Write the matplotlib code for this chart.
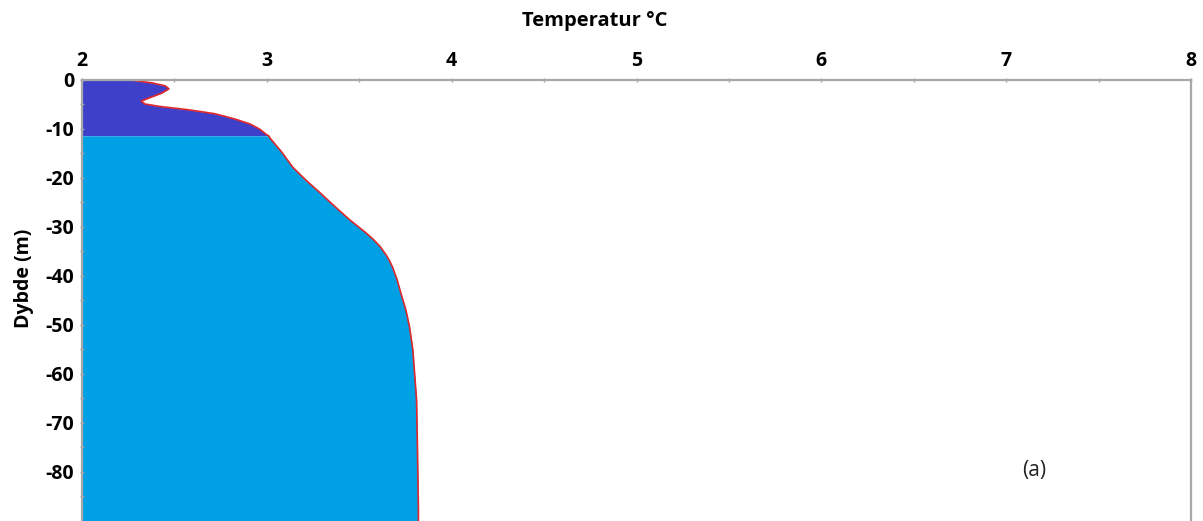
import numpy as np
import matplotlib.pyplot as plt

# Temperature profile (depth in m, temperature in degC)
depth = [0, 0.6, 1.2, 1.8, 2.7, 3.7, 4.3, 4.9, 5.4, 6.1, 6.9, 8.0, 9.0, 10.0,
         11.2, 11.4, 12.0, 14.7, 17.8, 20.4, 23.1, 25.9, 28.6, 31.0, 32.5, 34.0,
         35.7, 37.0, 38.2, 40.8, 43.5, 46.9, 50.4, 55.1, 60.2, 65.3, 75.5, 87.8, 90]
temp = [2.26, 2.38, 2.45, 2.47, 2.43, 2.36, 2.32, 2.34, 2.42, 2.58, 2.72, 2.83,
        2.91, 2.96, 3.00, 3.01, 3.02, 3.08, 3.14, 3.21, 3.29, 3.37, 3.45, 3.53,
        3.575, 3.613, 3.645, 3.665, 3.68, 3.705, 3.725, 3.752, 3.772, 3.79, 3.80,
        3.81, 3.815, 3.82, 3.82]
mixed_layer = 11.4  # base of the upper layer (m)

xticks = [2, 3, 4, 5, 6, 7, 8]
yticks = [0, -10, -20, -30, -40, -50, -60, -70, -80]

z = -np.array(depth)
t = np.array(temp)
upper = np.array(depth) <= mixed_layer
lower = np.array(depth) >= mixed_layer

plt.rcParams['font.family'] = ['Open Sans', 'DejaVu Sans']

fig = plt.figure(figsize=(12.03, 5.21), dpi=100)
ax = fig.add_axes([0.0682, 0.0, 0.9218, 0.8465])

# upper (dark) and lower (light) parts of the water column
ax.fill_betweenx(z[upper], 2, t[upper], color='#3F40C9', lw=0)
ax.fill_betweenx(z[lower], 2, t[lower], color='#00A1E4', lw=0)
ax.plot(t, z, color='#E0272B', lw=1.2, solid_joinstyle='round')

ax.set_xlim(2, 8)
ax.set_ylim(-90, 0)
ax.xaxis.tick_top()
ax.xaxis.set_label_position('top')
ax.set_xticks(xticks)
ax.set_xticks(np.arange(2.5, 8, 1), minor=True)
ax.set_yticks(yticks)
ax.set_yticks(np.arange(-85, 0, 10), minor=True)
ax.set_xticklabels([str(v) for v in xticks], fontweight='bold', fontsize=14)
ax.set_yticklabels([str(v) for v in yticks], fontweight='bold', fontsize=14)
ax.tick_params(which='both', direction='inout', length=3, width=1, color='#A0A0A0',
               pad=4)
ax.tick_params(axis='x', pad=5)

for side in ['top', 'left', 'right']:
    ax.spines[side].set_color('#A8A8A8')
    ax.spines[side].set_linewidth(1.6)
ax.spines['bottom'].set_visible(False)

ax.set_xlabel('Temperatur °C', fontweight='bold', fontsize=14.5)
ax.xaxis.set_label_coords(0.462, 1.122)
ax.set_ylabel('Dybde (m)', fontweight='bold', fontsize=14)
ax.yaxis.set_label_coords(-0.043, 0.55)

ax.text(0.859, 0.115, '(a)', transform=ax.transAxes, fontsize=15,
        ha='center', va='center', color='#222222')

plt.savefig('out.png', dpi=100)
